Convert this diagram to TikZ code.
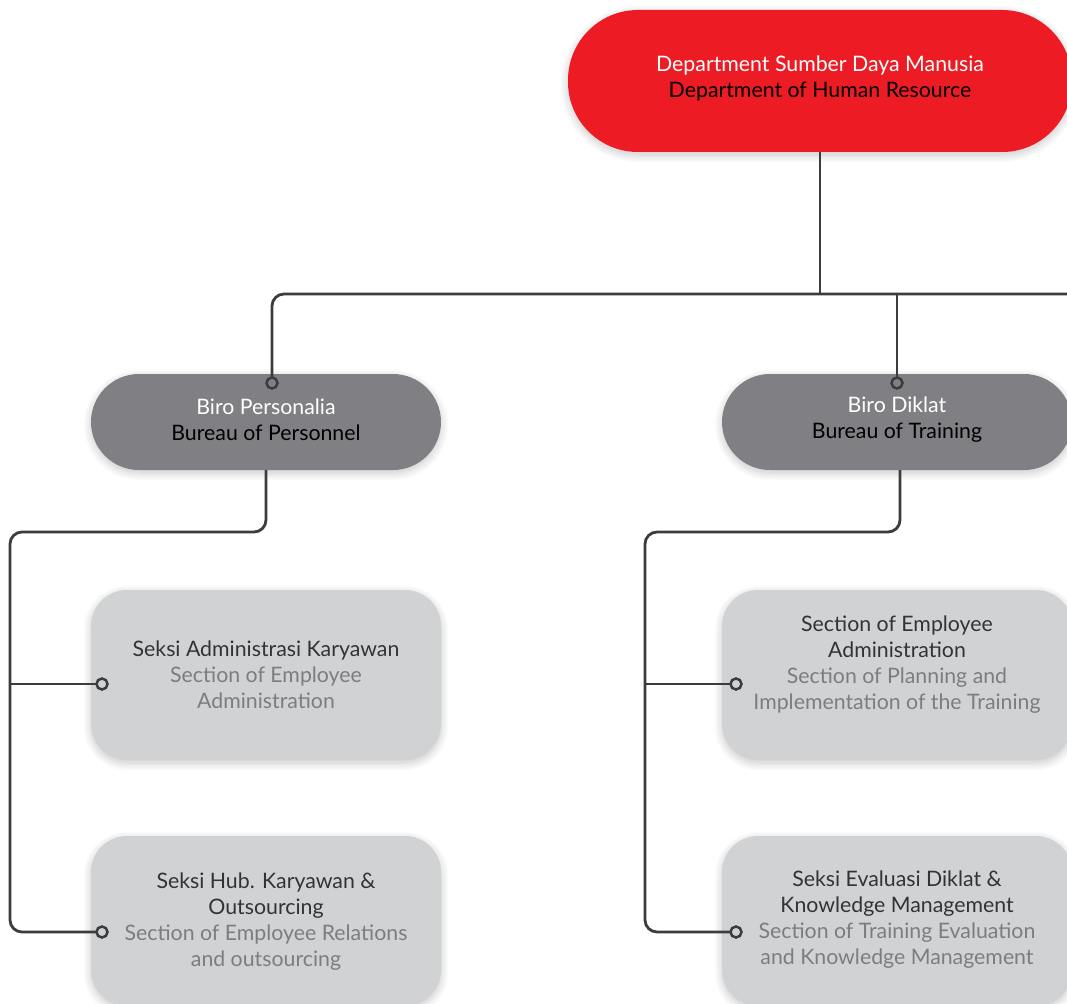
\documentclass[tikz,border=0pt]{standalone}
\usepackage{fontspec}
\setmainfont{Lato}
\usetikzlibrary{shadows.blur}
\definecolor{deptred}{HTML}{ED1C24}
\definecolor{biro}{HTML}{808084}
\definecolor{seksi}{HTML}{D1D2D4}
\definecolor{wire}{HTML}{3C3C3C}
\definecolor{txtdark}{HTML}{333333}
\definecolor{txtgray}{HTML}{7D7D80}
\tikzset{
  softshadow/.style={blur shadow={shadow xshift=0pt, shadow yshift=-3pt, shadow blur radius=8pt, shadow blur steps=10, shadow opacity=22}},
  deptbox/.style={draw=none, fill=deptred, rounded corners=70pt, minimum width=504pt, minimum height=142pt, softshadow},
  birobox/.style={draw=none, fill=biro, rounded corners=48pt, minimum width=350pt, minimum height=96pt, softshadow},
  seksibox/.style={draw=none, fill=seksi, rounded corners=36pt, minimum width=350pt, minimum height=170pt, softshadow},
  lbl/.style={align=center, font=\fontsize{21.3}{26}\selectfont, inner sep=0pt},
  conn/.style={draw=wire, line width=2.8pt, rounded corners=12pt},
  jdot/.style={circle, draw=wire, line width=2.5pt, fill=biro, minimum size=11pt, inner sep=0pt},
  jdotl/.style={jdot, fill=seksi},
}
\begin{document}
\begin{tikzpicture}[x=1pt, y=-1pt]
\useasboundingbox (0,0) rectangle (1067,1003);
\clip (0,0) rectangle (1067,1003);

% boxes
\node[deptbox] (dept) at (820,81) {};
\node[birobox] (biroA) at (266,422) {};
\node[birobox] (biroB) at (897,422) {};
\node[seksibox] (sekA1) at (266,675) {};
\node[seksibox] (sekA2) at (266,921) {};
\node[seksibox] (sekB1) at (897,675) {};
\node[seksibox] (sekB2) at (897,921) {};

% labels
\node[lbl] (deptT) at (820,78) {\textcolor{white}{Department Sumber Daya Manusia}\\\textcolor{black}{Department of Human Resource}};
\node[lbl] (biroAT) at (266,420) {\textcolor{white}{Biro Personalia}\\\textcolor{black}{Bureau of Personnel}};
\node[lbl] (biroBT) at (897,420) {\textcolor{white}{Biro Diklat}\\\textcolor{black}{Bureau of Training}};
\node[lbl] (sekA1T) at (266,674.5) {\textcolor{txtdark}{Seksi Administrasi Karyawan}\\\textcolor{txtgray}{Section of Employee}\\\textcolor{txtgray}{Administration}};
\node[lbl] (sekB1T) at (897,664.5) {\textcolor{txtdark}{Section of Employee}\\\textcolor{txtdark}{Administration}\\\textcolor{txtgray}{Section of Planning and}\\\textcolor{txtgray}{Implementation of the Training}};
\node[lbl] (sekA2T) at (266,921.5) {\textcolor{txtdark}{Seksi Hub. Karyawan \&}\\\textcolor{txtdark}{Outsourcing}\\\textcolor{txtgray}{Section of Employee Relations}\\\textcolor{txtgray}{and outsourcing}};
\node[lbl] (sekB2T) at (897,919.5) {\textcolor{txtdark}{Seksi Evaluasi Diklat \&}\\\textcolor{txtdark}{Knowledge Management}\\\textcolor{txtgray}{Section of Training Evaluation}\\\textcolor{txtgray}{and Knowledge Management}};

% bus and junction points
\coordinate (bus) at (1080,294);
\coordinate (spineA) at (10,532);
\coordinate (spineB) at (645,532);
\coordinate (outB) at (900,470);

% connectors
\draw[conn] (dept.south) -- (dept.south |- bus);
\draw[conn] (bus) -| (272,383) coordinate (tA);
\draw[conn] (897,294) coordinate (tBtop) -- (897,383) coordinate (tB);
\draw[conn] (biroA.south) |- (spineA) |- (102,932) coordinate (dA2);
\draw[conn] (spineA |- 0,684) -- (102,684) coordinate (dA1);
\draw[conn] (outB) |- (spineB) |- (736,932) coordinate (dB2);
\draw[conn] (spineB |- 0,684) -- (736,684) coordinate (dB1);

% junction dots
\node[jdot] (jA) at (tA) {};
\node[jdot] (jB) at (tB) {};
\node[jdotl] (jA1) at (dA1) {};
\node[jdotl] (jA2) at (dA2) {};
\node[jdotl] (jB1) at (dB1) {};
\node[jdotl] (jB2) at (dB2) {};
\end{tikzpicture}
\end{document}
